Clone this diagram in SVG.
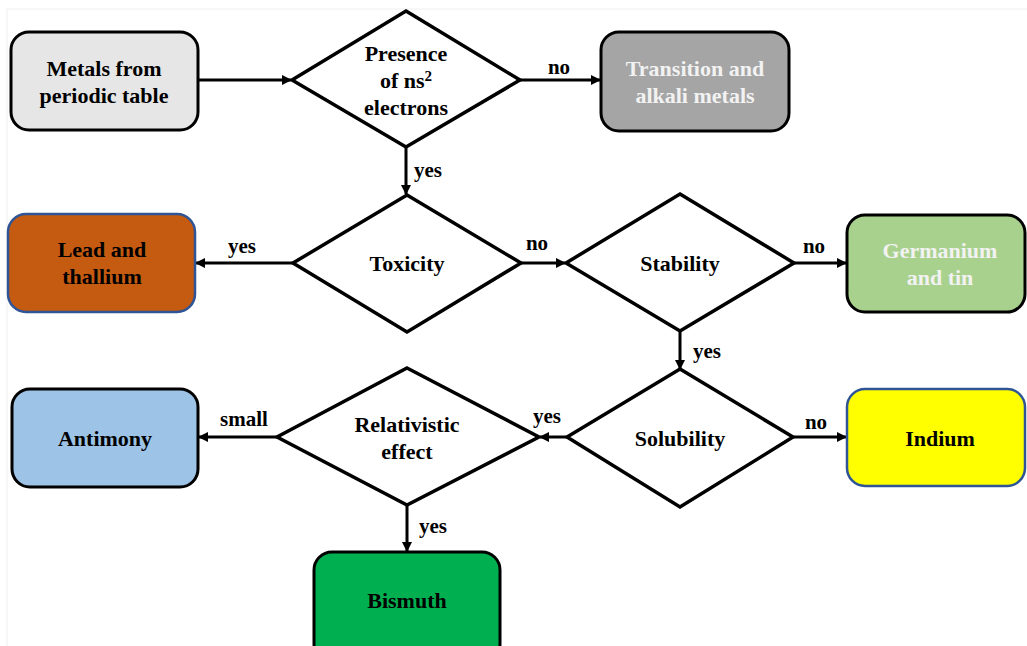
<svg xmlns="http://www.w3.org/2000/svg" width="1027" height="646" viewBox="0 0 1027 646">
<style>
  text { font-family: "Liberation Serif", "Times New Roman", serif; font-weight: bold; font-size: 22px; fill: #000; text-anchor: middle; }
  .box { stroke: #000; stroke-width: 3; }
  .bluebox { stroke: #2f5597; stroke-width: 2.5; }
  .dia { fill: #fff; stroke: #000; stroke-width: 3.5; stroke-linejoin: miter; }
  .light { fill: #f2f2f2; }
  .conn line { stroke: #000; stroke-width: 3; }
  .lbl { font-size: 21px; }
</style>
<defs>
  <marker id="arr" viewBox="0 0 10 10" refX="9" refY="5" markerWidth="3.4" markerHeight="3.4" orient="auto" markerUnits="strokeWidth">
    <path d="M0,0 L10,5 L0,10 Z" fill="#000"/>
  </marker>
</defs>
<rect width="1027" height="646" fill="#fff"/>
<path d="M7,646 V9 H1027" fill="none" stroke="#efefef" stroke-width="1"/>

<g id="connectors" class="conn">
  <line x1="198" y1="80" x2="291" y2="80" marker-end="url(#arr)"/>
  <line x1="520" y1="80" x2="600" y2="80" marker-end="url(#arr)"/>
  <line x1="406" y1="147" x2="406" y2="194" marker-end="url(#arr)"/>
  <line x1="293" y1="263" x2="196" y2="263" marker-end="url(#arr)"/>
  <line x1="521" y1="263" x2="565" y2="263" marker-end="url(#arr)"/>
  <line x1="794" y1="263" x2="846" y2="263" marker-end="url(#arr)"/>
  <line x1="680" y1="331" x2="680" y2="369" marker-end="url(#arr)"/>
  <line x1="567" y1="437" x2="540" y2="437" marker-end="url(#arr)"/>
  <line x1="793" y1="437" x2="846" y2="437" marker-end="url(#arr)"/>
  <line x1="277" y1="437" x2="199" y2="437" marker-end="url(#arr)"/>
  <line x1="407" y1="505" x2="407" y2="551" marker-end="url(#arr)"/>
</g>

<g id="labels">
  <text class="lbl" x="559" y="74">no</text>
  <text class="lbl" x="428" y="177">yes</text>
  <text class="lbl" x="242" y="253">yes</text>
  <text class="lbl" x="537" y="250">no</text>
  <text class="lbl" x="814" y="253">no</text>
  <text class="lbl" x="707" y="358">yes</text>
  <text class="lbl" x="547" y="423">yes</text>
  <text class="lbl" x="816" y="429">no</text>
  <text class="lbl" x="244" y="426">small</text>
  <text class="lbl" x="433" y="533">yes</text>
</g>

<g id="metals">
  <rect class="box" x="11" y="32" width="187" height="98" rx="18" fill="#e7e6e6"/>
  <text x="104" y="76">Metals from</text>
  <text x="104" y="103">periodic table</text>
</g>

<g id="presence">
  <polygon class="dia" points="406,11 520,80 406,147 292,80"/>
  <text x="406" y="61">Presence</text>
  <text x="406" y="88">of ns<tspan font-size="15" dy="-7">2</tspan></text>
  <text x="406" y="115">electrons</text>
</g>

<g id="transition">
  <rect class="box" x="601" y="32" width="188" height="99" rx="18" fill="#a5a5a5"/>
  <text class="light" x="695" y="76">Transition and</text>
  <text class="light" x="695" y="103">alkali metals</text>
</g>

<g id="toxicity">
  <polygon class="dia" points="407,195 521,263 407,332 293,263"/>
  <text x="407" y="271">Toxicity</text>
</g>

<g id="lead">
  <rect class="bluebox" x="8" y="214" width="187" height="98" rx="18" fill="#c55a11"/>
  <text x="102" y="257">Lead and</text>
  <text x="102" y="284">thallium</text>
</g>

<g id="stability">
  <polygon class="dia" points="680,194 794,263 680,331 566,263"/>
  <text x="680" y="271">Stability</text>
</g>

<g id="germanium">
  <rect class="box" x="847" y="215" width="178" height="97" rx="18" fill="#a9d18e"/>
  <text class="light" x="940" y="258">Germanium</text>
  <text class="light" x="940" y="285">and tin</text>
</g>

<g id="solubility">
  <polygon class="dia" points="680,369 793,437 680,507 567,437"/>
  <text x="680" y="446">Solubility</text>
</g>

<g id="indium">
  <rect class="bluebox" x="847" y="389" width="178" height="97" rx="18" fill="#ffff00"/>
  <text x="940" y="446">Indium</text>
</g>

<g id="relativistic">
  <polygon class="dia" points="407,368 539,437 407,505 277,437"/>
  <text x="407" y="432">Relativistic</text>
  <text x="407" y="459">effect</text>
</g>

<g id="antimony">
  <rect class="box" x="12" y="389" width="186" height="98" rx="18" fill="#9dc3e6"/>
  <text x="105" y="446">Antimony</text>
</g>

<g id="bismuth">
  <rect class="box" x="314" y="552" width="186" height="110" rx="18" fill="#00b050"/>
  <text x="407" y="608">Bismuth</text>
</g>
</svg>
